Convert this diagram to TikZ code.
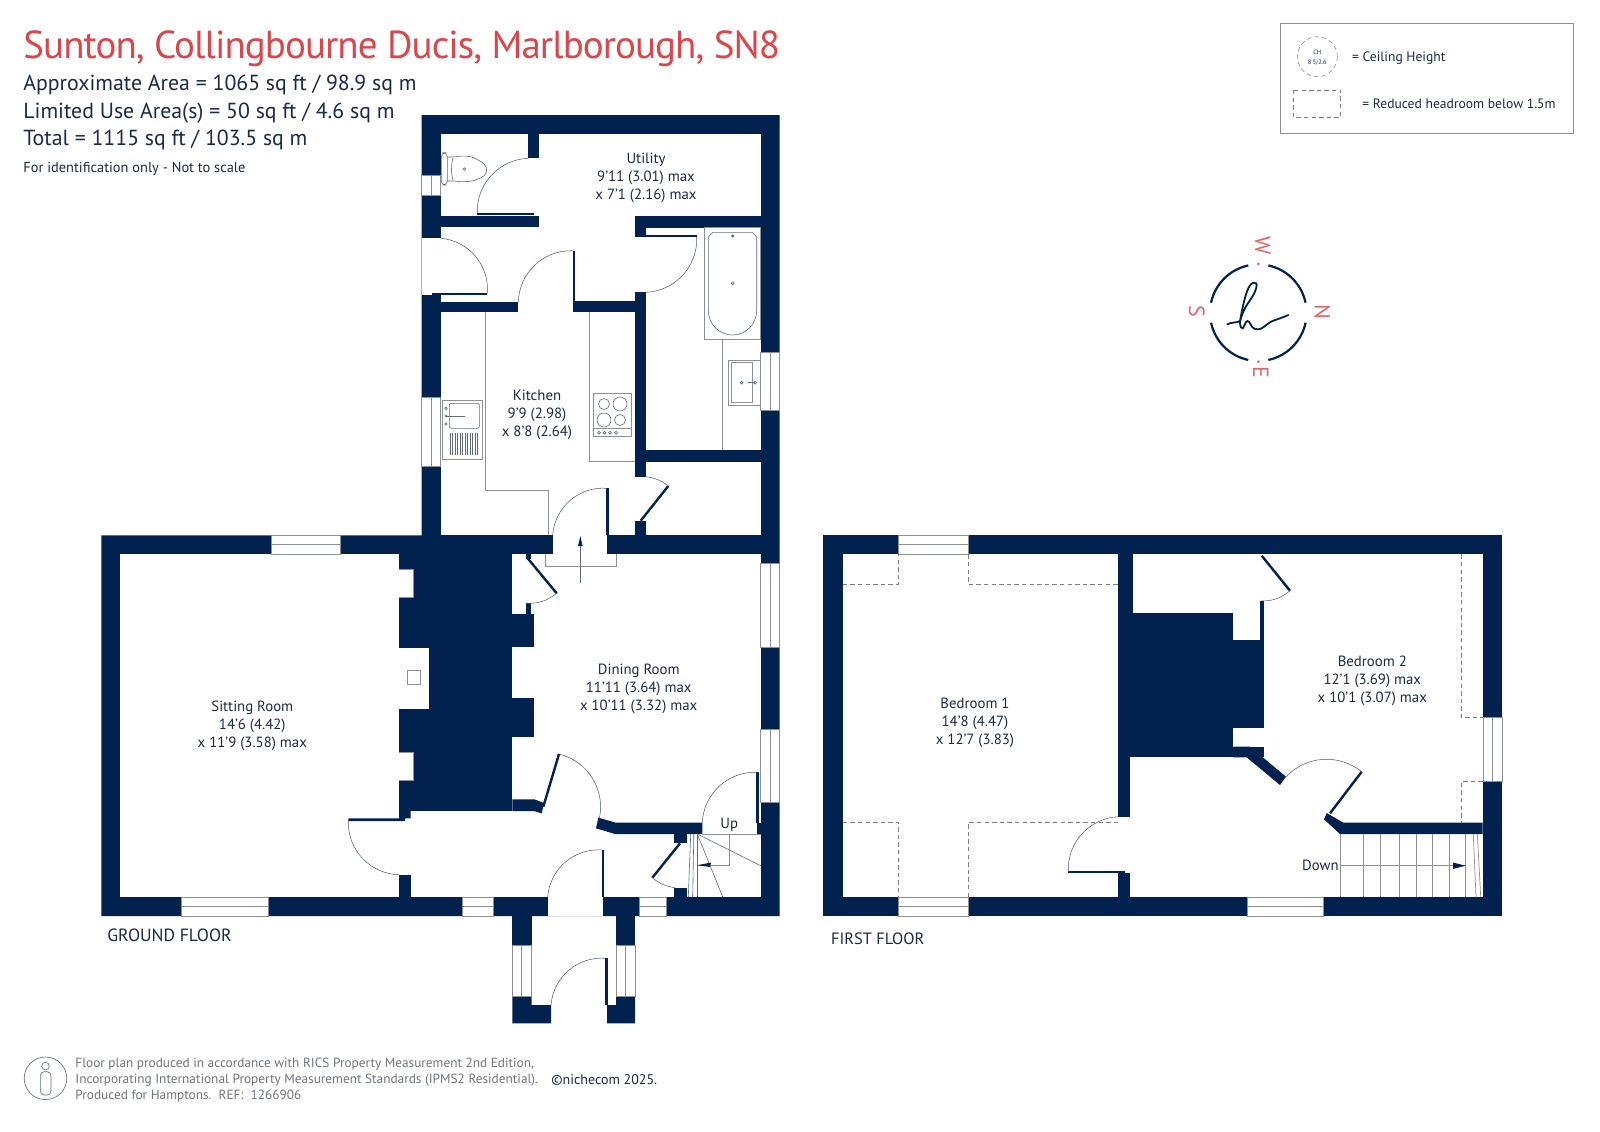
\documentclass[tikz,border=0pt]{standalone}
\usepackage{fontspec}
\setmainfont{PT Sans}
\definecolor{wallblue}{HTML}{01214F}
\definecolor{inkblue}{HTML}{1B2A48}
\definecolor{titlered}{HTML}{D8474C}
\definecolor{compassred}{HTML}{D9696B}
\definecolor{fittinggrey}{HTML}{8C8F93}
\definecolor{footgrey}{HTML}{6E7480}
\tikzset{
  wall/.style={fill=wallblue, draw=none},
  room/.style={fill=white, draw=none},
  windowbox/.style={fill=white, draw=fittinggrey, line width=.4pt},
  fitting/.style={draw=fittinggrey, line width=.35pt},
  fixture/.style={draw=inkblue!70, line width=.3pt},
  swing/.style={draw=inkblue!80, line width=.25pt},
  leaf/.style={draw=wallblue, line width=1.2pt},
  slope/.style={draw=black!50, line width=.3pt, dash pattern=on 2.2pt off 1.6pt},
  roomlabel/.style={align=center, text=inkblue, font=\fontsize{7.4}{9}\selectfont, inner sep=0pt},
  arealine/.style={anchor=west, text=inkblue, font=\fontsize{10.9}{12}\selectfont, inner sep=0pt},
  footline/.style={anchor=west, text=footgrey, font=\fontsize{6.65}{8}\selectfont, inner sep=0pt},
  compassletter/.style={text=compassred, rotate=-90, font=\fontsize{11}{12}\selectfont, inner sep=0pt}
}
\begin{document}
\begin{tikzpicture}[x=.5pt,y=-.5pt]
\useasboundingbox (0,0) rectangle (1600,1131);
\fill[white] (0,0) rectangle (1600,1131);
% ground floor shell
\fill[wall] (101.3,535.3) -- (421.7,535.3) -- (421.7,115) -- (779.5,115) -- (779.5,916) -- (101.3,916) -- cycle;
\foreach \xa/\ya/\xb/\yb in {120.3/554.3/399/897, 399/811/512.3/897, 512.3/554.3/760.7/897,
    440.7/134.3/760.7/216.3, 440.7/216.3/634.7/301.7, 421.7/238.3/440.7/295,
    518.3/301/572.7/312.3, 440.7/312.3/634.7/535.3, 552.7/535/607.3/554.5,
    646/227.7/760.7/450, 634.7/236.7/646/292.3, 646/461.7/760.7/535.3, 634.7/476.7/646/521,
    547.7/897/602.7/916}
  \fill[room] (\xa,\ya) rectangle (\xb,\yb);
% ground floor inner walls
\foreach \xa/\ya/\xb/\yb in {528.3/134.3/539.3/158.3, 440.7/216.3/539.3/227.3, 634.7/217.3/760.7/227.7,
    634.7/227.7/646/236.7, 440.7/301.7/518.3/312.3, 572.7/301/646/312.3, 646/450/760.7/461.7,
    399/875/410.7/897, 526/554.3/530.7/559, 526/603.3/531/614, 512.3/614/534.3/647.3,
    512.3/698.3/534.3/737.3, 674.3/834/686.7/843.3, 674.3/887.7/686.7/897, 757.3/822.7/760.7/834}
  \fill[wall] (\xa,\ya) rectangle (\xb,\yb);
\fill[wall] (399,811) -- (410.7,811) -- (410.7,818.3) -- (405,818.3) -- (405,821) -- (348.3,821) -- (348.3,818.3) -- (399,818.3) -- cycle;
\fill[wall] (512.3,799.3) -- (534.3,799.3) -- (544,803) -- (541.7,813.3) -- (534,811) -- (512.3,811) -- cycle;
\fill[wall] (598.3,817.7) -- (616,822.7) -- (702.3,822.7) -- (702.3,834) -- (615,834) -- (596,828.3) -- cycle;
\fill[wall] (431.7,292.7) rectangle (487.3,294.7);
% porch
\fill[wall] (512.3,916) rectangle (531.7,945);
\fill[wall] (616,916) rectangle (635,945);
\fill[wall] (512.3,996.7) -- (531.7,996.7) -- (531.7,1005) -- (551,1005) -- (551,1023.3) -- (512.3,1023.3) -- cycle;
\fill[wall] (607,1005) -- (616,1005) -- (616,996.7) -- (635,996.7) -- (635,1023.3) -- (607,1023.3) -- cycle;
% first floor shell
\fill[wall] (823.3,535.3) rectangle (1502.3,916);
\fill[room] (842.7,554.3) rectangle (1118.3,897);
\fill[room] (1132.7,554.3) rectangle (1482.7,613.3);
\fill[room] (1264.3,613) rectangle (1482.7,834);
\fill[room] (1233.3,613) rectangle (1260,640);
\fill[room] (1233.3,728.3) rectangle (1264.3,746.7);
\fill[room] (1130.3,757.3) rectangle (1482.7,897);
\fill[room] (1118,816.7) rectangle (1131,872.7);
\fill[wall] (1260,601) rectangle (1264.3,640);
\fill[wall] (1118.3,872.7) rectangle (1130.3,897);
\fill[wall] (1233.3,746.7) -- (1250,746.7) -- (1286,776.7) -- (1280,785) -- (1246.7,757.3) -- (1233.3,757.3) -- cycle;
\fill[wall] (1326.7,813) -- (1343.3,822.7) -- (1482.7,822.7) -- (1482.7,834) -- (1340,834) -- (1324,819.3) -- cycle;
\fill[wall] (1068.3,871) rectangle (1125,873);
% door leaves
\draw[leaf] (477.3,214) -- (534,214);
\draw[leaf] (573.8,250.7) -- (573.8,302);
\draw[leaf] (646,236) -- (696.7,236);
\draw[leaf] (668.3,486) -- (640.7,520.7);
\draw[leaf] (607.4,488.3) -- (607.4,535);
\draw[leaf] (527.7,558.3) -- (556.7,593.3);
\draw[leaf] (543.3,806.7) -- (559,754);
\draw[leaf] (757.5,772.3) -- (757.5,822.7);
\draw[leaf] (680,843.3) -- (652.3,877.7);
\draw[leaf] (603,850) -- (603,897);
\draw[leaf] (606.4,958.3) -- (606.4,1005);
\draw[leaf] (1261.7,555.7) -- (1290,590.7);
\draw[leaf] (1361.7,771.7) -- (1330,813.3);
% door swings
\draw[swing] (477.3,213.3) to[bend left=45] (528.3,158.3);
\draw[swing] (440.7,238.3) to[bend left=45] (487.3,293.3);
\draw[swing] (518.3,302) to[bend left=45] (572.7,250.7);
\draw[swing] (696.7,237) to[bend left=45] (646,292.3);
\draw[swing] (646,476.7) to[bend left=15] (668.3,486);
\draw[swing] (552.7,535) to[bend left=45] (606.7,488.3);
\draw[swing] (556.7,593.3) to[bend left=20] (526,603.3);
\draw[swing] (559,754) to[bend left=45] (599,820);
\draw[swing] (702.3,822.7) to[bend left=45] (757.3,772.3);
\draw[swing] (652.3,877.7) to[bend right=15] (675,887.7);
\draw[swing] (547.7,897) to[bend left=45] (602.3,850);
\draw[swing] (551,1005) to[bend left=45] (605.7,958.3);
\draw[swing] (348.3,821) to[bend right=45] (399,874.7);
\draw[swing] (1068.3,871.7) to[bend left=45] (1118.3,816.7);
\draw[swing] (1290,590.7) to[bend left=20] (1260,601);
\draw[swing] (1286,776.7) to[bend left=42] (1361.7,771.7);
% windows along x
\foreach \xa/\xb/\ya in {271/340.3/535.3, 181.3/268.7/897, 462.7/493.3/897, 639/666.7/897,
    898.7/968/535.3, 898.7/968/897, 1247.7/1323.3/897} {
  \draw[windowbox] (\xa,\ya) rectangle (\xb,\ya+19);
  \draw[fitting] (\xa,\ya+9.5) -- (\xb,\ya+9.5);
}
% windows along y
\foreach \ya/\yb/\xa in {175.3/195.3/421.7, 397.7/466.7/421.7, 352.3/410/760.7, 563.3/647.3/760.7,
    729/802.3/760.7, 945/996.7/512.3, 945/996.7/616, 717.3/781.7/1483} {
  \draw[windowbox] (\xa,\ya) rectangle (\xa+19,\yb);
  \draw[fitting] (\xa+9.5,\ya) -- (\xa+9.5,\yb);
}
% chimney recesses
\foreach \xa/\ya/\xb/\yb in {399/569.3/413.7/597.3, 399/752.7/413.7/780.7} {
  \fill[room] (\xa,\ya) rectangle (\xb,\yb);
  \draw[fitting] (\xa,\ya) -- (\xb,\ya) -- (\xb,\yb) -- (\xa,\yb);
}
\fill[room] (399,648.3) rectangle (428.7,708.7);
\draw[fitting] (407.3,670.3) rectangle (420.7,684.3);
% kitchen units
\draw[fitting] (485.7,312.3) -- (485.7,490.7) -- (548.7,490.7) -- (548.7,535);
\draw[fitting] (589.3,312.3) -- (589.3,461.7) -- (634.7,461.7);
\draw[fitting] (442.7,400.7) rectangle (482.7,459.3);
\draw[fixture, rounded corners=1pt] (449.3,403.3) rectangle (479.3,428.3);
\foreach \ya in {408.3,416,424}
  \draw[fixture] (446,\ya) circle (1.3);
\draw[fixture] (446,416) -- (465,416);
\foreach \xa in {450,452.5,...,479.5}
  \draw[fixture] (\xa,433.3) -- (\xa,455);
\draw[fitting] (593.3,393.3) rectangle (631.7,436.7);
\draw[fitting] (593.3,428.3) -- (631.7,428.3);
\foreach \xa/\ya/\ra in {604/404/5.5, 620/404/7, 604/420/7, 620/420/5.5}
  \draw[fixture] (\xa,\ya) circle (\ra);
\foreach \xa in {599,604.5,610,616}
  \draw[fixture] (\xa,432.7) circle (1.4);
% bathroom fittings
\draw[fitting] (704.3,227.7) rectangle (760.7,339.3);
\draw[fitting] (722.7,339.3) -- (722.7,450);
\draw[fixture] (713,232.3) -- (752,232.3) -- (756.7,237) -- (756.7,310) .. controls (756.7,325) and (745,335) .. (732.5,335) .. controls (720,335) and (708.3,325) .. (708.3,310) -- (708.3,237) -- cycle;
\fill[wallblue!70] (732.7,236) circle (1.6);
\draw[fixture] (732.7,283.3) circle (1.5);
\draw[fitting] (728.7,360.3) -- (760.7,360.3) -- (760.7,405.3) -- (728.7,405.3) -- cycle;
\draw[fitting] (731,362.5) rectangle (752.7,402.7);
\draw[fixture] (741.7,382.7) circle (1.4);
\draw[fixture] (748,382.7) -- (755,382.7);
\draw[fixture] (755,382.7) circle (1.4);
% toilet
\draw[fixture, rounded corners=2pt] (441.3,152.7) rectangle (447.3,185);
\draw[fixture] (447.3,157) -- (454,157) .. controls (458,156.5) and (470,154) .. (478,160) .. controls (490,165) and (489,176) .. (478,179) .. controls (470,183) and (458,181.5) .. (454,181) -- (447.3,181);
\draw[fixture] (453,158) .. controls (451,165) and (451,174) .. (453,180);
\draw[fixture] (464.3,169) circle (1.3);
% stairs up
\draw[fitting] (702.3,834) -- (760.7,834);
\draw[fitting] (729.3,834) -- (729.3,865.7) -- (697.3,865.7);
\draw[fixture] (690.7,834) -- (688.3,897);
\draw[fixture] (693.8,834) -- (692.7,897);
\draw[fixture] (697.3,834) -- (697.3,897);
\draw[fixture] (697.3,834) -- (760.7,865.7);
\draw[fixture] (697.3,834) -- (722.7,897);
\fill[wall] (697.3,865.2) -- (711,862.5) -- (710,867) -- cycle;
% stairs down
\foreach \xa in {1340.7,1363.3,1380,1399.3,1416,1432.7,1449,1465.7}
  \draw[fitting] (\xa,834) -- (\xa,897);
\draw[fitting] (1473.3,834) -- (1476,897);
\draw[fitting] (1477.3,834) -- (1480.7,897);
\draw[fitting] (1340.7,865.7) -- (1465.7,865.7);
\fill[wall] (1465.7,865.7) -- (1453,862.5) -- (1453,868.9) -- cycle;
% threshold and arrow
\draw[fitting] (545.7,554.3) -- (545.7,566) -- (616.3,566) -- (616.3,554.3);
\draw[fixture] (580.3,583.3) -- (580.3,545);
\fill[wall] (580.3,536) -- (578,546) -- (582.6,546) -- cycle;
% reduced headroom
\draw[slope] (842.7,584) -- (898.7,584) -- (898.7,554.3);
\draw[slope] (968,554.3) -- (968,584) -- (1118.3,584);
\draw[slope] (842.7,822.3) -- (898.7,822.3) -- (898.7,897);
\draw[slope] (968,897) -- (968,822.3) -- (1118.3,822.3);
\draw[slope] (1461,554.3) -- (1461,717.3) -- (1482.7,717.3);
\draw[slope] (1482.7,781.7) -- (1461,781.7) -- (1461,822.7);
% room labels
\node[roomlabel] (utility) at (646,177.5) {Utility\\9'11 (3.01) max\\x 7'1 (2.16) max};
\node[roomlabel] (kitchen) at (537,414.5) {Kitchen\\9'9 (2.98)\\x 8'8 (2.64)};
\node[roomlabel] (sitting) at (252.3,726) {Sitting Room\\14'6 (4.42)\\x 11'9 (3.58) max};
\node[roomlabel] (dining) at (638.7,688.5) {Dining Room\\11'11 (3.64) max\\x 10'11 (3.32) max};
\node[roomlabel] (bedone) at (975,722.5) {Bedroom 1\\14'8 (4.47)\\x 12'7 (3.83)};
\node[roomlabel] (bedtwo) at (1372.3,680.5) {Bedroom 2\\12'1 (3.69) max\\x 10'1 (3.07) max};
\node[roomlabel] (upmark) at (729.3,824.3) {Up};
\node[roomlabel, anchor=east] (downmark) at (1339,865.7) {Down};
\node[roomlabel, anchor=west, font=\fontsize{8.85}{10}\selectfont] (groundlabel) at (107,935) {GROUND FLOOR};
\node[roomlabel, anchor=west, font=\fontsize{8.2}{10}\selectfont] (firstlabel) at (830.7,939) {FIRST FLOOR};
% title block
\node[anchor=west, text=titlered, inner sep=0pt, font=\fontsize{19.5}{22}\selectfont\addfontfeature{LetterSpace=-2.4}] (title) at (23,49) {Sunton, Collingbourne Ducis, Marlborough, SN8};
\node[arealine] (areaa) at (23,85) {Approximate Area = 1065 sq ft / 98.9 sq m};
\node[arealine] (areab) at (23,113) {Limited Use Area(s) = 50 sq ft / 4.6 sq m};
\node[arealine] (areac) at (23,140) {Total = 1115 sq ft / 103.5 sq m};
\node[arealine, font=\fontsize{7.2}{9}\selectfont] (notscale) at (23,169) {For identification only - Not to scale};
% legend
\draw[draw=fittinggrey, line width=.5pt] (1280.3,23.3) rectangle (1573.3,133.7);
\draw[slope, line width=.25pt] (1317.3,56.7) circle (20);
\node[text=inkblue, inner sep=0pt, align=center, font=\fontsize{3.2}{4.8}\selectfont] (chmark) at (1317.3,57.5) {CH\\8'5/2.6};
\node[arealine, font=\fontsize{6.8}{8}\selectfont] (chtext) at (1351.7,57.7) {= Ceiling Height};
\draw[slope] (1293.3,90) rectangle (1340.7,117.3);
\node[arealine, font=\fontsize{6.8}{8}\selectfont] (headtext) at (1362,103.3) {= Reduced headroom below 1.5m};
% compass
\draw[wallblue, line width=1.1pt] (1258.3,312.7) ++(12:48.3) arc[start angle=12, end angle=78, radius=48.3];
\draw[wallblue, line width=1.1pt] (1258.3,312.7) ++(102:48.3) arc[start angle=102, end angle=168, radius=48.3];
\draw[wallblue, line width=1.1pt] (1258.3,312.7) ++(192:48.3) arc[start angle=192, end angle=258, radius=48.3];
\draw[wallblue, line width=1.1pt] (1258.3,312.7) ++(282:48.3) arc[start angle=282, end angle=348, radius=48.3];
\draw[wallblue, line width=.9pt, line cap=round] (1227.3,324.3) .. controls (1231,322) and (1237,323) .. (1240,321) .. controls (1242,310) and (1245,295) .. (1248.3,288.3) .. controls (1250,285) and (1252,282.5) .. (1253.3,282.7) .. controls (1256,282.5) and (1257,284) .. (1256.7,285) .. controls (1256.5,288) and (1255,292) .. (1253.3,295) .. controls (1250,301) and (1246,305) .. (1243.3,311.7) .. controls (1241.5,316) and (1240,320) .. (1240,323.3) .. controls (1240,326) and (1241,329) .. (1242.7,328.3) .. controls (1244,327) and (1245.5,321.5) .. (1247.3,321) .. controls (1249,321) and (1249.5,322.5) .. (1250,323.3) .. controls (1251.5,326) and (1253,329) .. (1255,329) .. controls (1258,330) and (1260,329) .. (1261.7,328.3) .. controls (1265,326.5) and (1267,324) .. (1270,322.3) .. controls (1273,320.5) and (1277,319.5) .. (1280,318.3) .. controls (1283,317.5) and (1286,316) .. (1288.3,315);
\fill[compassred] (1258.3,264) circle (1.5);
\fill[compassred] (1258.3,361.7) circle (1.5);
\node[compassletter] (westmark) at (1262.7,245.7) {W};
\node[compassletter] (northmark) at (1322.3,312.3) {N};
\node[compassletter] (southmark) at (1196.7,311) {S};
\node[compassletter] (eastmark) at (1260.7,372.3) {E};
% footer
\draw[draw=inkblue!70, line width=.3pt] (45.5,1078.3) circle (21.3);
\draw[draw=inkblue!70, line width=.3pt] (45.5,1066) circle (3.8);
\draw[draw=inkblue!70, line width=.3pt, rounded corners=2pt] (40.3,1071.7) rectangle (51,1095);
\node[footline] (foota) at (75,1063.7) {Floor plan produced in accordance with RICS Property Measurement 2nd Edition,};
\node[footline] (footb) at (75,1080) {Incorporating International Property Measurement Standards (IPMS2 Residential).};
\node[footline] (footc) at (75,1096.3) {Produced for Hamptons.\ \ REF:\ \ 1266906};
\node[footline, text=inkblue, font=\fontsize{7}{8}\selectfont] (niche) at (551,1080) {©nichecom 2025.};
\end{tikzpicture}
\end{document}
